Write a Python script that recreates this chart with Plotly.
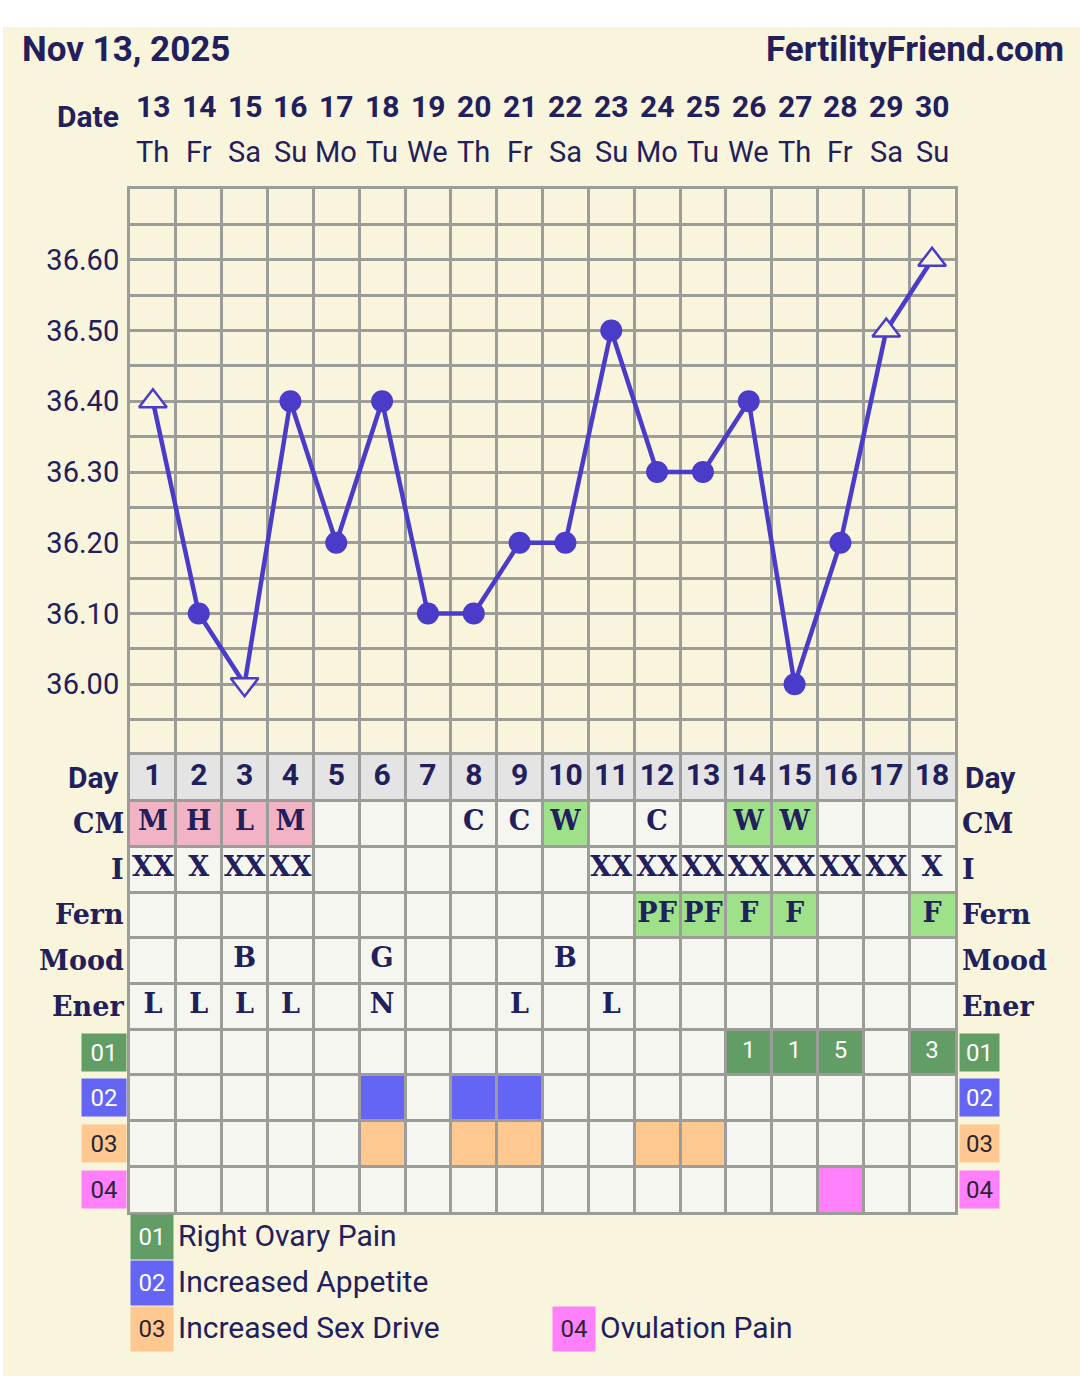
import numpy as np
import plotly.graph_objects as go

W, H = 1080, 1376

# ---- chart data -------------------------------------------------------------
header_date = "Nov 13, 2025"
site_name = "FertilityFriend.com"

dates = [13, 14, 15, 16, 17, 18, 19, 20, 21, 22, 23, 24, 25, 26, 27, 28, 29, 30]
weekdays = ["Th", "Fr", "Sa", "Su", "Mo", "Tu", "We", "Th", "Fr",
            "Sa", "Su", "Mo", "Tu", "We", "Th", "Fr", "Sa", "Su"]
cycle_days = list(range(1, 19))

temps = [36.40, 36.10, 36.00, 36.40, 36.20, 36.40, 36.10, 36.10, 36.20,
         36.20, 36.50, 36.30, 36.30, 36.40, 36.00, 36.20, 36.50, 36.60]
# open triangles mark adjusted readings ("up"/"down"), plain dots otherwise
temp_flags = ["up", "", "down", "", "", "", "", "", "",
              "", "", "", "", "", "", "", "up", "up"]
temp_ticks = [36.00, 36.10, 36.20, 36.30, 36.40, 36.50, 36.60]

cervical_mucus = ["M", "H", "L", "M", "", "", "", "C", "C",
                  "W", "", "C", "", "W", "W", "", "", ""]
intercourse = ["XX", "X", "XX", "XX", "", "", "", "", "",
               "", "XX", "XX", "XX", "XX", "XX", "XX", "XX", "X"]
fern = ["", "", "", "", "", "", "", "", "",
        "", "", "PF", "PF", "F", "F", "", "", "F"]
mood = ["", "", "B", "", "", "G", "", "", "",
        "B", "", "", "", "", "", "", "", ""]
energy = ["L", "L", "L", "L", "", "N", "", "", "L",
          "", "L", "", "", "", "", "", "", ""]

right_ovary_pain = ["", "", "", "", "", "", "", "", "",
                    "", "", "", "", "1", "1", "5", "", "3"]
increased_appetite = [0, 0, 0, 0, 0, 1, 0, 1, 1, 0, 0, 0, 0, 0, 0, 0, 0, 0]
increased_sex_drive = [0, 0, 0, 0, 0, 1, 0, 1, 1, 0, 0, 1, 1, 0, 0, 0, 0, 0]
ovulation_pain = [0, 0, 0, 0, 0, 0, 0, 0, 0, 0, 0, 0, 0, 0, 0, 1, 0, 0]

symptom_codes = ["01", "02", "03", "04"]
symptom_names = ["Right Ovary Pain", "Increased Appetite",
                 "Increased Sex Drive", "Ovulation Pain"]

row_labels = ["Day", "CM", "I", "Fern", "Mood", "Ener"] + symptom_codes

# ---- styling ----------------------------------------------------------------
CREAM = "#f9f4dc"
CELL = "#f6f6f0"
DAYROW = "#e4e4e4"
GRID = "#9c9c98"
INK = "#22205c"
LINE = "#4a3bc8"
PINK = "#f2b3c5"
LIGHT_GREEN = "#9fe08b"
symptom_colors = ["#619d65", "#6464f5", "#ffc891", "#ff80fa"]
symptom_text = ["#ffffff", "#ffffff", "#2a2530", "#2a2530"]
cm_fill = {"M": PINK, "H": PINK, "L": PINK, "W": LIGHT_GREEN}

SANS = "Roboto"
SLAB = "DejaVu Serif"

X0, X1 = 130, 955          # grid left / right (px)
T_TOP, T_BOT = 189, 755    # temperature panel (px)
R_BOT = 1212               # bottom of the data rows (px)
T_MIN, T_MAX = 35.90, 36.70


def px(x):
    return x / W


def py(y):
    return 1 - y / H


fig = go.Figure()

# ---- temperature curve ------------------------------------------------------
symbols = ["triangle-up" if f == "up" else "triangle-down" if f == "down" else "circle"
           for f in temp_flags]
fig.add_trace(go.Scatter(
    x=cycle_days, y=temps, mode="lines+markers",
    line=dict(color=LINE, width=4.5),
    marker=dict(
        symbol=symbols,
        size=[24 if f else 22 for f in temp_flags],
        color=[CREAM if f else LINE for f in temp_flags],
        opacity=1,
        line=dict(color=LINE, width=[2.5 if f else 0 for f in temp_flags]),
    ),
    xaxis="x", yaxis="y", hoverinfo="skip", showlegend=False, cliponaxis=False,
))

# ---- cell fills for the data rows ------------------------------------------
shapes = []


def cell(day, row, color):
    shapes.append(dict(type="rect", xref="x2", yref="y2", layer="below",
                       x0=day - 0.5, x1=day + 0.5, y0=row, y1=row + 1,
                       fillcolor=color, line=dict(width=0)))


# page background with the thin white frame at the top/left
shapes.append(dict(type="rect", xref="paper", yref="paper", layer="below",
                   x0=px(3), x1=1, y0=0, y1=py(27), fillcolor=CREAM,
                   line=dict(width=0)))

# row backgrounds
shapes.append(dict(type="rect", xref="x2", yref="y2", layer="below",
                   x0=0.5, x1=18.5, y0=0, y1=1, fillcolor=DAYROW, line=dict(width=0)))
shapes.append(dict(type="rect", xref="x2", yref="y2", layer="below",
                   x0=0.5, x1=18.5, y0=1, y1=len(row_labels), fillcolor=CELL,
                   line=dict(width=0)))

for d, v in zip(cycle_days, cervical_mucus):
    if v in cm_fill:
        cell(d, 1, cm_fill[v])
for d, v in zip(cycle_days, fern):
    if v:
        cell(d, 3, LIGHT_GREEN)
symptom_rows = [[1 if v else 0 for v in right_ovary_pain],
                increased_appetite, increased_sex_drive, ovulation_pain]
for k, flags in enumerate(symptom_rows):
    for d, v in zip(cycle_days, flags):
        if v:
            cell(d, 6 + k, symptom_colors[k])


# ---- text inside the cells ---------------------------------------------------
def row_text(values, row, family, size, color=INK, bold=True):
    xs = [d for d, v in zip(cycle_days, values) if v]
    ts = [str(v) for v in values if v]
    fig.add_trace(go.Scatter(
        x=xs, y=[row + 0.5] * len(xs), text=ts, mode="text",
        textposition="middle center",
        textfont=dict(family=family, size=size, color=color,
                      weight="bold" if bold else "normal"),
        xaxis="x2", yaxis="y2", hoverinfo="skip", showlegend=False,
        cliponaxis=False,
    ))


row_text(cycle_days, 0, SANS, 30)
row_text(cervical_mucus, 1, SLAB, 27)
row_text(intercourse, 2, SLAB, 27)
row_text(fern, 3, SLAB, 27)
row_text(mood, 4, SLAB, 27)
row_text(energy, 5, SLAB, 27)
row_text(right_ovary_pain, 6, SANS, 24, color="#ffffff", bold=False)

# ---- annotations: header, dates, row labels, legend -------------------------
ann = []
ann.append(dict(text=f"<b>{header_date}</b>", xref="paper", yref="paper",
                x=px(20), y=py(49), xanchor="left", yanchor="middle", showarrow=False,
                font=dict(family=SANS, size=35, color=INK)))
ann.append(dict(text=f"<b>{site_name}</b>", xref="paper", yref="paper",
                x=px(1066), y=py(49), xanchor="right", yanchor="middle", showarrow=False,
                font=dict(family=SANS, size=35, color=INK)))
ann.append(dict(text="<b>Date</b>", xref="paper", yref="paper",
                x=px(121), y=py(117), xanchor="right", yanchor="middle", showarrow=False,
                font=dict(family=SANS, size=30, color=INK)))
for d, dt, wd in zip(cycle_days, dates, weekdays):
    ann.append(dict(text=f"<b>{dt}</b>", xref="x", yref="paper", x=d, y=py(107),
                    xanchor="center", yanchor="middle", showarrow=False,
                    font=dict(family=SANS, size=30, color=INK)))
    ann.append(dict(text=wd, xref="x", yref="paper", x=d, y=py(152),
                    xanchor="center", yanchor="middle", showarrow=False,
                    font=dict(family=SANS, size=29, color=INK)))

for r, lab in enumerate(row_labels):
    if lab in symptom_codes:
        k = symptom_codes.index(lab)
        for xpos, anchor, wbox in ((127, "right", 44), (959, "left", 39)):
            ann.append(dict(text=lab, xref="paper", yref="y2", x=px(xpos), y=r + 0.5,
                            xanchor=anchor, yanchor="middle", showarrow=False,
                            width=wbox, height=37, borderpad=0, bgcolor=symptom_colors[k],
                            align="center",
                            font=dict(family=SANS, size=24, color=symptom_text[k])))
    else:
        fam = SANS if lab == "Day" else SLAB
        size = 30 if lab == "Day" else 27
        ann.append(dict(text=f"<b>{lab}</b>", xref="paper", yref="y2",
                        x=px(121 if lab == "Day" else 126), y=r + 0.5,
                        xanchor="right", yanchor="middle", showarrow=False,
                        font=dict(family=fam, size=size, color=INK)))
        ann.append(dict(text=f"<b>{lab}</b>", xref="paper", yref="y2",
                        x=px(963 if lab == "Day" else 960), y=r + 0.5,
                        xanchor="left", yanchor="middle", showarrow=False,
                        font=dict(family=fam, size=size, color=INK)))

# legend of the symptom codes
legend_pos = [(130, 1237), (130, 1283), (130, 1329), (552, 1329)]
for k, (code, name) in enumerate(zip(symptom_codes, symptom_names)):
    lx, ly = legend_pos[k]
    ann.append(dict(text=code, xref="paper", yref="paper", x=px(lx), y=py(ly),
                    xanchor="left", yanchor="middle", showarrow=False,
                    width=42, height=44, borderpad=0, bgcolor=symptom_colors[k],
                    font=dict(family=SANS, size=24, color=symptom_text[k])))
    ann.append(dict(text=name, xref="paper", yref="paper", x=px(lx + 46), y=py(ly - 2),
                    xanchor="left", yanchor="middle", showarrow=False,
                    font=dict(family=SANS, size=30, color=INK)))

# ---- axes ---------------------------------------------------------------------
grid_x = [0.5 + i for i in range(19)]
grid_t = [round(v, 2) for v in np.arange(T_MIN, T_MAX + 0.001, 0.05)]
tick_txt = [f"{v:.2f}" if any(abs(v - t) < 1e-6 for t in temp_ticks) else "" for v in grid_t]

common_x = dict(domain=[px(X0), px(X1)], range=[0.5, 18.5], tickmode="array",
                tickvals=grid_x, showticklabels=False, ticks="", showgrid=True,
                gridcolor=GRID, gridwidth=3, zeroline=False, showline=True,
                mirror=True, linecolor=GRID, linewidth=3, fixedrange=True)

fig.update_layout(
    width=W, height=H, autosize=False,
    margin=dict(l=0, r=0, t=0, b=0),
    paper_bgcolor="#ffffff", plot_bgcolor=CREAM,
    showlegend=False, hovermode=False,
    xaxis=dict(anchor="y", **common_x),
    xaxis2=dict(anchor="y2", **common_x),
    yaxis=dict(domain=[py(T_BOT), py(T_TOP)], range=[T_MIN, T_MAX], anchor="x",
               tickmode="array", tickvals=grid_t, ticktext=tick_txt, ticks="",
               ticklabelstandoff=2,
               tickfont=dict(family=SANS, size=29, color=INK),
               showgrid=True, gridcolor=GRID, gridwidth=3, zeroline=False,
               showline=True, mirror=True, linecolor=GRID, linewidth=3, fixedrange=True),
    yaxis3=dict(overlaying="y", side="right", anchor="x", range=[T_MIN, T_MAX],
                tickmode="array", tickvals=temp_ticks,
                ticktext=[f"{t:.2f}" for t in temp_ticks], ticks="",
                ticklabelstandoff=6,
                tickfont=dict(family=SANS, size=29, color=INK),
                showgrid=False, zeroline=False, showline=False, fixedrange=True),
    yaxis2=dict(domain=[py(R_BOT), py(T_BOT)], anchor="x2",
                range=[len(row_labels), 0], tickmode="array",
                tickvals=list(range(len(row_labels) + 1)), showticklabels=False,
                ticks="", showgrid=True, gridcolor=GRID, gridwidth=3, zeroline=False,
                showline=True, mirror=True, linecolor=GRID, linewidth=3, fixedrange=True),
    shapes=shapes,
    annotations=ann,
)

fig.write_html("out.html", config=dict(displayModeBar=False, staticPlot=True))
